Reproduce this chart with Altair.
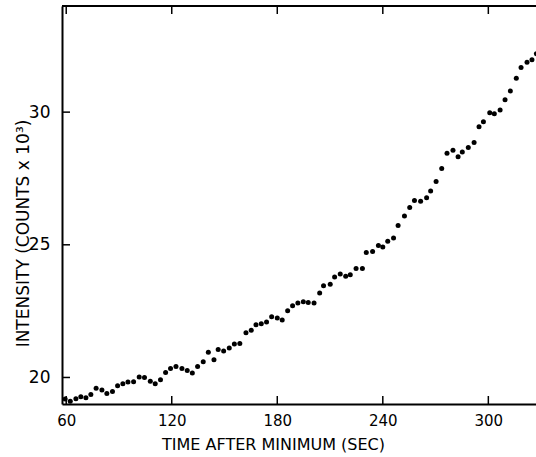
import altair as alt
import pandas as pd

# Time after minimum (s) and measured intensity (thousands of counts)
time_s = [
    59.4, 62.3, 65.5, 68.3, 71.2, 74.0, 77.0, 80.3, 83.1, 86.3,
    89.2, 92.2, 95.1, 98.3, 101.5, 104.5, 107.8, 110.6, 113.6, 116.5,
    119.3, 122.4, 125.8, 128.8, 131.7, 134.7, 137.9, 140.8, 144.0, 146.4,
    149.5, 152.7, 155.6, 158.7, 162.2, 165.2, 167.9, 170.9, 173.9, 176.8,
    180.0, 182.8, 185.9, 188.7, 191.7, 194.8, 197.6, 200.9, 204.1, 206.3,
    210.1, 212.6, 215.8, 218.9, 221.5, 224.8, 228.4, 230.6, 234.2, 237.5,
    240.0, 242.8, 246.1, 248.7, 252.3, 255.3, 258.0, 261.5, 264.9, 267.2,
    270.3, 273.5, 276.5, 279.9, 282.8, 285.2, 288.6, 291.9, 294.7, 297.2,
    300.8, 303.4, 306.7, 309.5, 312.5, 315.9, 318.6, 322.0, 324.8, 327.3,
]
intensity = [
    19.19, 19.10, 19.20, 19.27, 19.24, 19.36, 19.59, 19.53, 19.40, 19.47,
    19.69, 19.76, 19.83, 19.84, 20.02, 20.00, 19.86, 19.76, 19.91, 20.19,
    20.34, 20.41, 20.34, 20.26, 20.17, 20.41, 20.59, 20.95, 20.67, 21.05,
    21.00, 21.11, 21.26, 21.28, 21.69, 21.78, 21.99, 22.02, 22.09, 22.29,
    22.24, 22.17, 22.51, 22.70, 22.81, 22.85, 22.83, 22.81, 23.18, 23.46,
    23.51, 23.79, 23.90, 23.81, 23.87, 24.11, 24.11, 24.71, 24.75, 24.97,
    24.92, 25.13, 25.26, 25.73, 26.09, 26.41, 26.67, 26.64, 26.77, 27.03,
    27.39, 27.88, 28.45, 28.56, 28.32, 28.50, 28.67, 28.86, 29.45, 29.64,
    29.98, 29.94, 30.08, 30.47, 30.80, 31.28, 31.68, 31.88, 31.97, 32.20,
]
x_ticks = [60, 120, 180, 240, 300]
y_ticks = [20, 25, 30]

W, H = 474, 398
FONT = "DejaVu Sans"

xscale = alt.Scale(domain=[57.6, 327.1], nice=False, zero=False)
yscale = alt.Scale(domain=[19.0, 34.0], nice=False, zero=False)

x_axis = alt.Axis(
    values=x_ticks, ticks=False, grid=False, labelPadding=9,
    labelFontSize=15, labelFont=FONT, labelColor="black",
    domainColor="black", domainWidth=2,
    title="TIME AFTER MINIMUM (SEC)", titleFont=FONT, titleFontSize=16,
    titleFontWeight="normal", titleColor="black",
    titleX=211, titleY=45, titleAlign="center", titleBaseline="alphabetic",
)
y_axis = alt.Axis(
    values=y_ticks, ticks=False, grid=False, labelPadding=12,
    labelFontSize=17, labelFont=FONT, labelColor="black",
    domainColor="black", domainWidth=2,
    title="INTENSITY (COUNTS x 10³)", titleFont=FONT, titleFontSize=17,
    titleFontWeight="normal", titleColor="black",
    titleX=-34, titleY=227, titleAngle=270, titleAlign="center",
    titleBaseline="alphabetic",
)

df = pd.DataFrame({"t": time_s, "i": intensity})
xt = pd.DataFrame({"t": x_ticks})
yt = pd.DataFrame({"i": y_ticks})

points = alt.Chart(df).mark_circle(size=25, color="black", opacity=1).encode(
    x=alt.X("t:Q", scale=xscale, axis=x_axis),
    y=alt.Y("i:Q", scale=yscale, axis=y_axis),
)

# Inward-pointing tick marks on bottom, top and left edges
bottom_ticks = alt.Chart(xt).mark_rule(color="black", strokeWidth=1.5).encode(
    x=alt.X("t:Q", scale=xscale, axis=x_axis),
    y=alt.value(H), y2=alt.value(H - 8),
)
top_ticks = alt.Chart(xt).mark_rule(color="black", strokeWidth=1.5).encode(
    x=alt.X("t:Q", scale=xscale, axis=x_axis),
    y=alt.value(0), y2=alt.value(8),
)
left_ticks = alt.Chart(yt).mark_rule(color="black", strokeWidth=1.5).encode(
    y=alt.Y("i:Q", scale=yscale, axis=y_axis),
    x=alt.value(0), x2=alt.value(8),
)
top_border = alt.Chart(xt).mark_rule(color="black", strokeWidth=2).encode(
    x=alt.value(0), x2=alt.value(W), y=alt.value(0),
)

chart = alt.layer(points, bottom_ticks, top_ticks, left_ticks, top_border).properties(
    width=W, height=H,
    autosize=alt.AutoSizeParams(type="none"),
    padding={"left": 62, "top": 6, "right": 0, "bottom": 53},
    background="white",
).configure_view(stroke=None)

chart.save("out.html", embed_options={"renderer": "svg", "actions": False})
